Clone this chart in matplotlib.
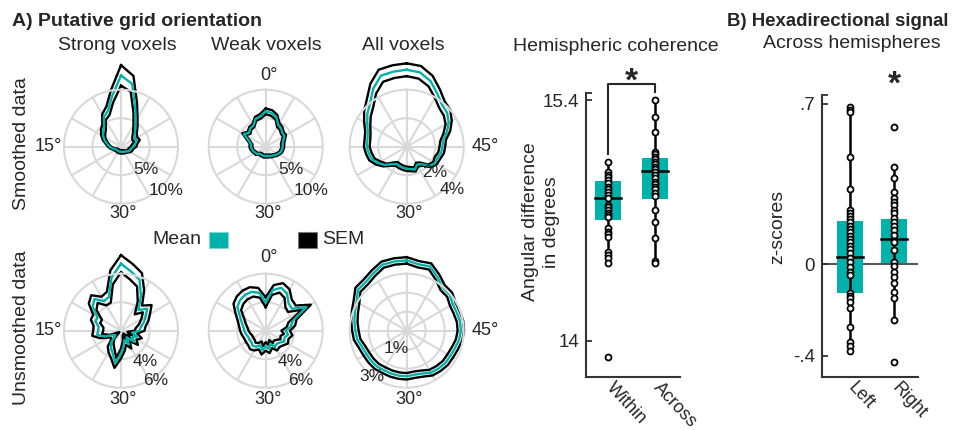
import numpy as np
import matplotlib
matplotlib.use('Agg')
import matplotlib.pyplot as plt
from matplotlib.patches import Rectangle
from matplotlib.transforms import ScaledTranslation

plt.rcParams['font.family'] = ['Liberation Sans', 'DejaVu Sans']

teal = '#00b2a9'
ring_grey = '#d9d9d9'
axis_col = '#333333'

# grid orientation bins (deg, 60 deg periodic), plotted x6 round the circle
orient = np.linspace(0, 60, 36, endpoint=False)

# smoothed data (% of voxels)
strong_sm_mean = [12.5, 9.0, 6.7, 6.0, 4.6, 4.1, 3.6, 3.0, 2.4, 2.0, 1.6, 1.2,
                  1.0, 0.9, 0.9, 0.9, 0.9, 0.9, 0.9, 0.9, 1.0, 1.0, 1.1, 1.3,
                  1.6, 1.7, 1.8, 2.2, 2.4, 3.0, 2.8, 3.1, 3.9, 5.1, 7.3, 11.2]
strong_sm_sem = [1.8, 1.1, 0.8, 0.6, 0.5, 0.5, 0.4, 0.4, 0.3, 0.3, 0.3, 0.3,
                 0.3, 0.3, 0.3, 0.3, 0.3, 0.3, 0.3, 0.3, 0.3, 0.3, 0.3, 0.3,
                 0.3, 0.4, 0.4, 0.5, 0.5, 0.5, 0.5, 0.5, 0.6, 0.7, 0.9, 1.4]
weak_sm_mean = [6.2, 5.4, 5.2, 4.3, 4.2, 3.8, 4.4, 3.2, 2.6, 2.6, 2.5, 2.3,
                2.1, 2.0, 1.6, 1.6, 1.6, 1.7, 1.6, 1.7, 1.7, 1.9, 2.0, 2.3,
                2.5, 2.8, 2.9, 3.0, 3.0, 3.3, 3.8, 3.8, 4.2, 4.4, 5.5, 6.0]
weak_sm_sem = [0.5, 0.4, 0.35, 0.3, 0.3, 0.3, 0.35, 0.3, 0.25, 0.25, 0.25, 0.25,
               0.25, 0.25, 0.25, 0.25, 0.25, 0.25, 0.25, 0.25, 0.25, 0.25, 0.25, 0.25,
               0.25, 0.25, 0.25, 0.25, 0.3, 0.3, 0.3, 0.3, 0.35, 0.4, 0.45, 0.5]
all_sm_mean = [5.4, 5.35, 5.3, 4.7, 4.0, 3.6, 3.2, 2.9, 2.8, 2.8, 2.7, 2.6,
               2.3, 2.0, 1.6, 1.4, 1.45, 1.5, 1.55, 1.6, 1.7, 1.45, 1.6, 2.1,
               2.3, 2.3, 2.45, 2.5, 2.6, 3.0, 3.4, 3.7, 3.85, 4.3, 4.9, 5.3]
all_sm_sem = [0.45, 0.45, 0.45, 0.4, 0.35, 0.3, 0.25, 0.2, 0.2, 0.2, 0.2, 0.2,
              0.2, 0.15, 0.15, 0.15, 0.15, 0.15, 0.15, 0.15, 0.15, 0.15, 0.15, 0.15,
              0.15, 0.2, 0.2, 0.2, 0.2, 0.25, 0.25, 0.3, 0.3, 0.35, 0.4, 0.45]

# unsmoothed data
strong_un_mean = [6.7, 5.8, 4.5, 4.4, 4.9, 4.6, 3.9, 3.9, 3.6, 3.6, 3.7, 3.2,
                  2.6, 2.5, 3.1, 3.4, 3.7, 4.3, 3.6, 3.1, 2.7, 3.1, 2.6, 3.2,
                  2.9, 3.2, 2.8, 3.3, 3.4, 3.7, 4.0, 4.4, 3.9, 4.8, 5.8, 6.2]
strong_un_sem = [0.6, 0.5, 0.4, 0.35, 0.35, 0.35, 0.35, 0.35, 0.35, 0.35, 0.35, 0.35,
                 0.35, 0.35, 0.35, 0.35, 0.35, 0.35, 0.35, 0.35, 0.35, 0.35, 0.35, 0.35,
                 0.35, 0.35, 0.35, 0.35, 0.35, 0.35, 0.35, 0.4, 0.4, 0.45, 0.5, 0.55]
weak_un_mean = [4.0, 4.7, 4.9, 4.9, 4.8, 4.6, 4.1, 3.8, 3.6, 3.5, 3.4, 3.3,
                3.3, 3.3, 3.4, 3.3, 3.1, 3.4, 3.1, 3.3, 3.0, 3.3, 3.2, 3.3,
                3.5, 3.4, 3.6, 3.4, 3.8, 4.0, 5.3, 4.4, 4.5, 5.0, 5.2, 4.9]
weak_un_sem = [0.35, 0.35, 0.35, 0.35, 0.35, 0.35, 0.35, 0.3, 0.3, 0.3, 0.3, 0.3,
               0.3, 0.3, 0.3, 0.3, 0.3, 0.3, 0.3, 0.3, 0.3, 0.3, 0.3, 0.3,
               0.3, 0.3, 0.3, 0.3, 0.3, 0.3, 0.35, 0.35, 0.35, 0.35, 0.35, 0.35]
all_un_mean = [3.7, 3.7, 3.7, 3.5, 3.35, 3.35, 3.05, 2.9, 2.8, 2.7, 2.65, 2.5,
               2.45, 2.45, 2.45, 2.4, 2.4, 2.4, 2.4, 2.35, 2.4, 2.55, 2.6, 2.65,
               2.65, 2.7, 2.8, 2.85, 2.85, 2.8, 2.8, 2.95, 2.95, 3.25, 3.6, 3.55]
all_un_sem = [0.17] * 36

# hemispheric coherence (angular difference, deg)
within_pts = [15.041, 14.983, 14.964, 14.951, 14.935, 14.916, 14.896, 14.881, 14.867,
              14.848, 14.828, 14.789, 14.776, 14.760, 14.745, 14.731, 14.718, 14.654,
              14.634, 14.621, 14.605, 14.518, 14.499, 14.479, 14.454, 13.907]
across_pts = [15.400, 15.303, 15.212, 15.099, 15.086, 15.070, 15.055, 15.041, 15.028,
              15.012, 14.997, 14.983, 14.964, 14.945, 14.925, 14.912, 14.896, 14.881,
              14.857, 14.842, 14.760, 14.689, 14.596, 14.465, 14.454]
coh_labels = ['Within', 'Across']
coh_box_lo = [14.702, 14.824]
coh_box_hi = [14.931, 15.065]
coh_median = [14.832, 14.987]
coh_whisk_lo = [14.454, 14.454]
coh_whisk_hi = [15.041, 15.400]

# hexadirectional signal (z-scores)
left_pts = [0.688, 0.674, 0.664, 0.470, 0.327, 0.237, 0.223, 0.212, 0.198, 0.183, 0.169,
            0.154, 0.140, 0.125, 0.110, 0.096, 0.081, 0.067, 0.048, 0.026, 0.011, -0.010,
            -0.032, -0.047, -0.127, -0.137, -0.148, -0.166, -0.192, -0.272, -0.338,
            -0.355, -0.379]
right_pts = [0.601, 0.426, 0.375, 0.317, 0.288, 0.273, 0.259, 0.237, 0.223, 0.204, 0.186,
             0.169, 0.150, 0.128, 0.099, 0.062, 0.011, -0.006, -0.032, -0.054, -0.083,
             -0.120, -0.148, -0.243, -0.425]
hex_labels = ['Left', 'Right']
hex_box_lo = [-0.127, 0.007]
hex_box_hi = [0.191, 0.198]
hex_median = [0.031, 0.110]
hex_whisk_lo = [-0.379, -0.243]
hex_whisk_hi = [0.688, 0.426]

W, H = 959, 430
fig = plt.figure(figsize=(W / 100, H / 100), dpi=100)


def px_axes(x0, y0, w, h, **kw):
    return fig.add_axes([x0 / W, 1 - (y0 + h) / H, w / W, h / H], **kw)


def ftext(x, y, s, **kw):
    fig.text(x / W, 1 - y / H, s, **kw)


# ---- rose plots ----
R = 57
col_x = [121, 265.7, 406.7]
row_y = [146.7, 330.7]

roses = [
    (0, 0, strong_sm_mean, strong_sm_sem, 0, 10, [5]),
    (1, 0, weak_sm_mean, weak_sm_sem, 0, 10, [5]),
    (2, 0, all_sm_mean, all_sm_sem, 0, 4, [2]),
    (0, 1, strong_un_mean, strong_un_sem, 2, 6, [4]),
    (1, 1, weak_un_mean, weak_un_sem, 2, 6, [4]),
    (2, 1, all_un_mean, all_un_sem, 0, 3, [1, 2]),
]
rose_axes = {}
th = np.deg2rad(np.append(orient, orient[0]) * 6)
for c, r, mean, sem, rmin, rmax, rings in roses:
    ax = px_axes(col_x[c] - R, row_y[r] - R, 2 * R, 2 * R, projection='polar')
    ax.set_theta_zero_location('N')
    ax.set_theta_direction(1)
    ax.set_thetagrids(np.arange(0, 360, 30), labels=[])
    ax.set_rticks(rings)
    ax.set_yticklabels([])
    ax.set_rlim(rmin, rmax)
    ax.grid(True, color=ring_grey, lw=1.5)
    ax.spines['polar'].set_color(ring_grey)
    ax.spines['polar'].set_linewidth(1.5)
    ax.patch.set_alpha(0)
    m = np.append(mean, mean[0])
    s = np.append(sem, sem[0])
    ax.plot(th, np.maximum(m - s, rmin), color='k', lw=1.7, clip_on=False)
    ax.plot(th, m + s, color='k', lw=1.7, clip_on=False)
    ax.plot(th, m, color=teal, lw=1.7, clip_on=False)
    rose_axes[(c, r)] = ax


def rtext(c, r, dx, dy, s, **kw):
    ax = rose_axes[(c, r)]
    ax.text(0.5 + dx / (2 * R), 0.5 - dy / (2 * R), s, transform=ax.transAxes,
            fontsize=kw.pop('fontsize', 12.5), color='#262626', **kw)


# angle labels
for r in (0, 1):
    rtext(1, r, 3, -71 - 2 * r, '0°', ha='center', va='center', fontsize=13)
    rtext(0, r, -59, 0, '15°', ha='right', va='center', fontsize=13)
    rtext(2, r, 65, 0, '45°', ha='left', va='center', fontsize=13)
    for c in (0, 1, 2):
        rtext(c, r, 2, 67 + 2 * r, '30°', ha='center', va='center', fontsize=13)

# radial labels
for c in (0, 1):
    rtext(c, 0, 25, 23, '5%', ha='center', va='center')
    rtext(c, 0, 45, 44, '10%', ha='center', va='center')
    rtext(c, 1, 24, 31, '4%', ha='center', va='center')
    rtext(c, 1, 35, 50, '6%', ha='center', va='center')
rtext(2, 0, 28, 26, '2%', ha='center', va='center')
rtext(2, 0, 45, 43, '4%', ha='center', va='center')
rtext(2, 1, -10, 18, '1%', ha='center', va='center')
rtext(2, 1, -35, 46, '3%', ha='center', va='center')

# titles / row labels
ftext(12, 21.7, 'A) Putative grid orientation', fontsize=14, fontweight='bold',
      ha='left', va='center', color='#262626')
ftext(727, 21.7, 'B) Hexadirectional signal', fontsize=13.4, fontweight='bold',
      ha='left', va='center', color='#262626')
for x, s in zip([117.5, 266.7, 403], ['Strong voxels', 'Weak voxels', 'All voxels']):
    ftext(x, 45, s, fontsize=14, ha='center', va='center', color='#262626')
ftext(22, 144, 'Smoothed data', fontsize=14, rotation=90, ha='center', va='center',
      color='#262626')
ftext(22, 328, 'Unsmoothed data', fontsize=14, rotation=90, ha='center', va='center',
      color='#262626')
ftext(616, 46.7, 'Hemispheric coherence', fontsize=14, ha='center', va='center',
      color='#262626')
ftext(851.7, 43.3, 'Across hemispheres', fontsize=14, ha='center', va='center',
      color='#262626')

# legend
ftext(201.7, 239, 'Mean', fontsize=14, ha='right', va='center', color='#262626')
ftext(321.7, 239, 'SEM', fontsize=14, ha='left', va='center', color='#262626')
fig.add_artist(Rectangle((209 / W, 1 - 248.3 / H), 18.7 / W, 16.6 / H,
                         transform=fig.transFigure, facecolor=teal,
                         edgecolor='#7fd8d3', lw=0.8))
fig.add_artist(Rectangle((298.3 / W, 1 - 248.3 / H), 18.4 / W, 16.6 / H,
                         transform=fig.transFigure, facecolor='k',
                         edgecolor='#777777', lw=0.8))


# ---- box panels ----
def box_panel(ax, groups, lo, hi, mid, wlo, whi, labels, bw, ylim, yticks, yticklabels):
    ax.set_xlim(*ylim[0])
    ax.set_ylim(*ylim[1])
    for i, pts in enumerate(groups):
        x = i + 1
        ax.bar(x, hi[i] - lo[i], bottom=lo[i], width=bw, color=teal, zorder=1)
        ax.plot([x - bw / 2, x + bw / 2], [mid[i], mid[i]], color='k', lw=1.8, zorder=2)
        ax.plot([x, x], [wlo[i], whi[i]], color='k', lw=1.8, zorder=3)
        ax.plot([x] * len(pts), pts, 'o', ms=4.3, mfc='white', mec='k', mew=1.3,
                zorder=4, clip_on=False)
    for side in ('top', 'right'):
        ax.spines[side].set_visible(False)
    for side in ('left', 'bottom'):
        ax.spines[side].set_color(axis_col)
        ax.spines[side].set_linewidth(1.5)
    ax.set_yticks(yticks, yticklabels)
    ax.set_yticks([ylim[1][1]], minor=True)
    ax.tick_params(axis='y', which='both', direction='in', length=4, width=1.3,
                   color=axis_col, labelsize=13.5, labelcolor='#262626', pad=5)
    ax.set_xticks([1, 2])
    ax.set_xticklabels(labels, rotation=-47, ha='left', va='top',
                       rotation_mode='anchor', fontsize=13, color='#262626')
    ax.tick_params(axis='x', length=0, pad=2)
    shift = ScaledTranslation(7 / 100, 0, fig.dpi_scale_trans)
    for lab in ax.get_xticklabels():
        lab.set_transform(lab.get_transform() + shift)
    ax.patch.set_alpha(0)


ax1 = px_axes(586, 93.3, 94, 283.4)
box_panel(ax1, [within_pts, across_pts], coh_box_lo, coh_box_hi, coh_median,
          coh_whisk_lo, coh_whisk_hi, coh_labels, 0.56,
          ((0.522, 2.535), (13.791, 15.439)), [14, 15.4], ['14', '15.4'])
ax1.set_ylabel('Angular difference\nin degrees', fontsize=14, color='#262626',
               linespacing=1.3)
ax1.yaxis.set_label_coords(-0.276, 0.547)
ax1.plot([1, 1, 2, 2], [15.086, 15.492, 15.492, 15.449], color='#262626', lw=1.5,
         clip_on=False)
ax1.text(1.5, 15.455, '*', fontsize=24, fontweight='bold', ha='center',
         va='baseline', color='#262626')

ax2 = px_axes(821.7, 95, 96.3, 281.7)
ax2.axhline(0, color='#555555', lw=1.5, zorder=0.5)
box_panel(ax2, [left_pts, right_pts], hex_box_lo, hex_box_hi, hex_median,
          hex_whisk_lo, hex_whisk_hi, hex_labels, 0.59,
          ((0.357, 2.545), (-0.491, 0.739)), [-0.4, 0, 0.7], ['-.4', '0', '.7'])
ax2.set_ylabel('z-scores', fontsize=14, color='#262626')
ax2.yaxis.set_label_coords(-0.363, 0.532)
ax2.text(2, 0.744, '*', fontsize=24, fontweight='bold', ha='center',
         va='baseline', color='#262626')

fig.savefig('out.png', dpi=100)
